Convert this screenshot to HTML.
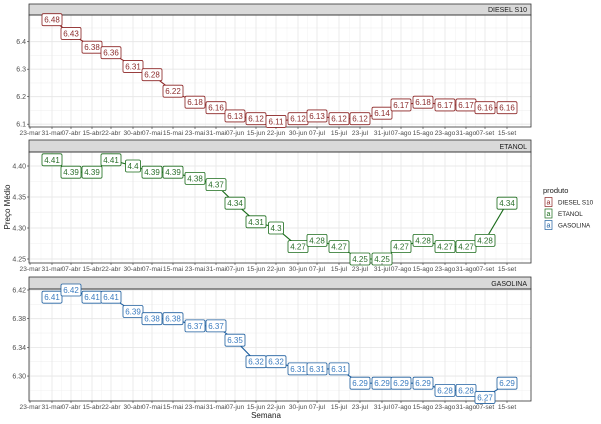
<!DOCTYPE html><html><head><meta charset="utf-8"><style>body{margin:0;background:#fff}svg{display:block}</style></head><body>
<svg id="s" width="601" height="424" xmlns="http://www.w3.org/2000/svg" font-family="Liberation Sans, sans-serif"></svg>
<script>
const s=document.getElementById('s');let h='';
const tx=[30,52,71,92,111,133,152,173,195,216,235,256,276,298,317,339,360,382,401,423,445,466,485,507];
const tl=['23-mar','31-mar','07-abr','15-abr','22-abr','30-abr','07-mai','15-mai','23-mai','31-mai','07-jun','15-jun','22-jun','30-jun','07-jul','15-jul','23-jul','31-jul','07-ago','15-ago','23-ago','31-ago','07-set','15-set'];
const L=29,R=531;
const P=[
{n:'DIESEL S10',st:4,top:15,bot:127,yt:[[6.1,'6.1'],[6.2,'6.2'],[6.3,'6.3'],[6.4,'6.4']],y0:6.4,py0:41.7,k:275,c:'#8b2323',tc:'#8b2b2b',
d:[6.48,6.43,6.38,6.36,6.31,6.28,6.22,6.18,6.16,6.13,6.12,6.11,6.12,6.13,6.12,6.12,6.14,6.17,6.18,6.17,6.17,6.16,6.16]},
{n:'ETANOL',st:140,top:152,bot:263,yt:[[4.25,'4.25'],[4.30,'4.30'],[4.35,'4.35'],[4.40,'4.40']],y0:4.40,py0:166,k:620,c:'#1a6b1a',tc:'#2a6e2a',
d:[4.41,4.39,4.39,4.41,4.4,4.39,4.39,4.38,4.37,4.34,4.31,4.3,4.27,4.28,4.27,4.25,4.25,4.27,4.28,4.27,4.27,4.28,4.34]},
{n:'GASOLINA',st:277,top:289,bot:401,yt:[[6.30,'6.30'],[6.34,'6.34'],[6.38,'6.38'],[6.42,'6.42']],y0:6.42,py0:290,k:717,c:'#1f5f9f',tc:'#3a7bbf',
d:[6.41,6.42,6.41,6.41,6.39,6.38,6.38,6.37,6.37,6.35,6.32,6.32,6.31,6.31,6.31,6.29,6.29,6.29,6.29,6.28,6.28,6.27,6.29]}];
P.forEach(p=>{
 const Y=v=>p.py0+(p.y0-v)*p.k;
 h+=`<rect x="${L}" y="${p.top}" width="${R-L}" height="${p.bot-p.top}" fill="#fff"/>`;
 for(let i=0;i<tx.length-1;i++){const m=(tx[i]+tx[i+1])/2;h+=`<line x1="${m}" x2="${m}" y1="${p.top}" y2="${p.bot}" stroke="#f3f3f3" stroke-width="0.6"/>`;}
 h+=`<line x1="${(507+R)/2+3}" x2="${(507+R)/2+3}" y1="${p.top}" y2="${p.bot}" stroke="#f3f3f3" stroke-width="0.6"/>`;
 const step=p.yt[1][0]-p.yt[0][0];
 for(let v=p.yt[0][0]-step/2;v<p.yt[3][0]+step;v+=step/2){const y=Y(v);if(y>p.top&&y<p.bot)h+=`<line x1="${L}" x2="${R}" y1="${y}" y2="${y}" stroke="#f0f0f0" stroke-width="0.6"/>`;}
 tx.forEach(x=>h+=`<line x1="${x}" x2="${x}" y1="${p.top}" y2="${p.bot}" stroke="#e6e6e6" stroke-width="0.8"/>`);
 p.yt.forEach(([v,t])=>{const y=Y(v);h+=`<line x1="${L}" x2="${R}" y1="${y}" y2="${y}" stroke="#e6e6e6" stroke-width="0.8"/><line x1="${L-2}" x2="${L}" y1="${y}" y2="${y}" stroke="#333" stroke-width="0.6"/><text x="${L-3}" y="${y+2.5}" font-size="7" fill="#4d4d4d" text-anchor="end">${t}</text>`;});
 h+=`<rect x="${L}" y="${p.st}" width="${R-L}" height="${p.top-p.st}" fill="#d9d9d9" stroke="#333" stroke-width="0.8"/><text x="${R-4}" y="${p.top-3}" font-size="7" fill="#1a1a1a" text-anchor="end">${p.n}</text>`;
 h+=`<rect x="${L}" y="${p.top}" width="${R-L}" height="${p.bot-p.top}" fill="none" stroke="#333" stroke-width="0.8"/>`;
 let pts=p.d.map((v,i)=>`${tx[i+1]},${Y(v).toFixed(1)}`).join(' ');
 h+=`<polyline points="${pts}" fill="none" stroke="${p.c}" stroke-width="1.1"/>`;
 p.d.forEach((v,i)=>{const x=tx[i+1],y=Y(v);const t=String(v);const w=t.length>3?20:15;
  h+=`<rect x="${x-w/2}" y="${y-6}" width="${w}" height="12" rx="1.5" fill="#fff" stroke="${p.c}" stroke-width="0.8"/><text x="${x}" y="${y+3}" font-size="8" fill="${p.tc}" text-anchor="middle">${t}</text>`;});
 tx.forEach((x,i)=>h+=`<line x1="${x}" x2="${x}" y1="${p.bot}" y2="${p.bot+2}" stroke="#333" stroke-width="0.6"/><text x="${x}" y="${p.bot+8}" font-size="6.6" fill="#4d4d4d" text-anchor="middle">${tl[i]}</text>`);
});
h+=`<text x="266" y="418" font-size="8" fill="#1a1a1a" text-anchor="middle">Semana</text>`;
h+=`<text transform="translate(10,207) rotate(-90)" font-size="8" fill="#1a1a1a" text-anchor="middle">Preço Médio</text>`;
h+=`<text x="543" y="193" font-size="7.5" fill="#1a1a1a">produto</text>`;
[['DIESEL S10','#8b2323'],['ETANOL','#1a6b1a'],['GASOLINA','#1f5f9f']].forEach(([n,c],i)=>{const y=202+i*11.5;
 h+=`<rect x="545" y="${y-4.5}" width="7" height="9" fill="#fff" stroke="${c}" stroke-width="0.7"/><text x="548.5" y="${y+2.5}" font-size="7" fill="${c}" text-anchor="middle">a</text><text x="558" y="${y+2.5}" font-size="6.3" fill="#1a1a1a">${n}</text>`;});
s.innerHTML=h;
</script></body></html>
